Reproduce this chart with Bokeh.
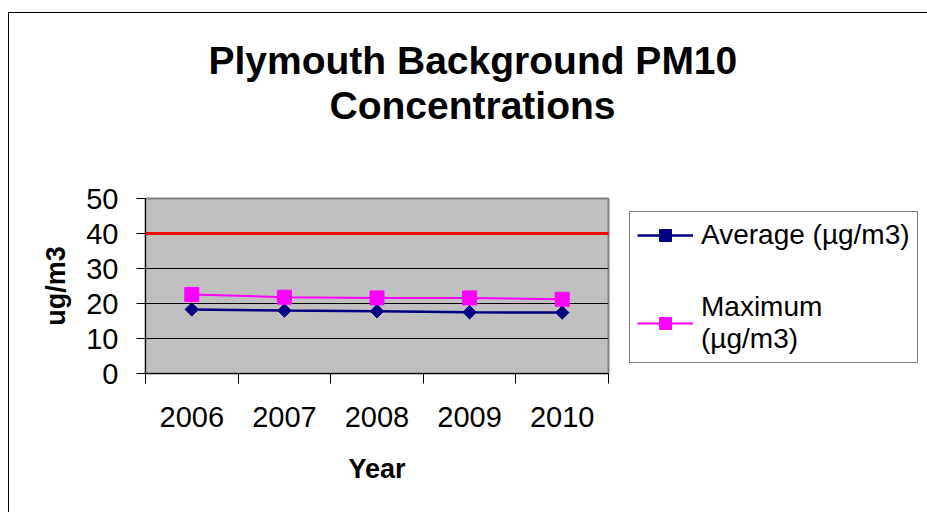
from bokeh.plotting import figure
from bokeh.models import (FixedTicker, Span, Title, Legend, LegendItem,
                          ColumnDataSource, Range1d, LinearAxis)
from bokeh.embed import file_html
from bokeh.resources import INLINE

# ---- data ----
years = ["2006", "2007", "2008", "2009", "2010"]
average = [18.3, 18.0, 17.8, 17.5, 17.4]
maximum = [22.6, 21.8, 21.6, 21.6, 21.2]
limit_value = 40
y_ticks = [0, 10, 20, 30, 40, 50]
y_max = 50

FONT = "Liberation Sans"

x_pos = [i + 0.5 for i in range(len(years))]
src = ColumnDataSource(dict(x=x_pos, year=years, avg=average, mx=maximum))

# figure host starts at page (9, 13) because of the chart-area border
p = figure(frame_width=463, frame_height=175, output_backend="svg",
           toolbar_location=None, tools="",
           x_range=Range1d(0, len(years)), y_range=Range1d(0, y_max),
           min_border_left=136, min_border_right=319,
           min_border_top=185, min_border_bottom=139)
p.styles = {"margin-left": "8px", "margin-top": "12px",
            "border-left": "1px solid black", "border-top": "1px solid black"}

p.background_fill_color = "#C0C0C0"
p.border_fill_color = "white"
p.outline_line_color = "#808080"
p.outline_line_width = 2

xa = p.below[0]
ya = p.left[0]

# ---- titles (p.title is outermost) ----
p.title.text = "Plymouth Background PM10"
p.title.align = "left"
p.title.offset = 63
p.title.standoff = 0
p.title.text_font = FONT
p.title.text_font_size = "39px"
p.title.text_font_style = "bold"
p.title.text_color = "black"

# blank axis that only reserves the gap between the title and the plot area
gap = LinearAxis(ticker=FixedTicker(ticks=[0], minor_ticks=[]),
                 major_tick_out=72, major_tick_in=0,
                 minor_tick_out=0, minor_tick_in=0,
                 major_label_standoff=0, major_label_text_font_size="0px",
                 major_label_text_alpha=0, axis_line_color=None,
                 major_tick_line_color="white", minor_tick_line_color=None)
p.add_layout(gap, "above")
t2 = Title(text="Concentrations", align="left", offset=184, standoff=0,
           text_font=FONT, text_font_size="39px", text_font_style="bold",
           text_color="black")
p.add_layout(t2, "above")

# ---- x axis ----
xa.ticker = FixedTicker(ticks=x_pos, minor_ticks=list(range(len(years) + 1)))
xa.major_label_overrides = {x: y for x, y in zip(x_pos, years)}
xa.major_tick_in = 0
xa.major_tick_out = 0
xa.minor_tick_in = 0
xa.minor_tick_out = 10
xa.minor_tick_line_color = "black"
xa.axis_line_color = "black"
xa.major_label_standoff = 23
xa.major_label_text_font = FONT
xa.major_label_text_font_size = "29px"
xa.major_label_text_color = "black"
xa.axis_label = "Year"
xa.axis_label_text_font = FONT
xa.axis_label_text_font_size = "27px"
xa.axis_label_text_font_style = "bold"
xa.axis_label_text_color = "black"
xa.axis_label_standoff = 24

# ---- y axis ----
ya.ticker = FixedTicker(ticks=y_ticks, minor_ticks=[])
ya.major_tick_in = 0
ya.major_tick_out = 9
ya.major_tick_line_color = "black"
ya.minor_tick_line_color = None
ya.axis_line_color = "black"
ya.major_label_standoff = 18
ya.major_label_text_font = FONT
ya.major_label_text_font_size = "29px"
ya.major_label_text_color = "black"
ya.axis_label = "ug/m3"
ya.axis_label_text_font = FONT
ya.axis_label_text_font_size = "27px"
ya.axis_label_text_font_style = "bold"
ya.axis_label_text_color = "black"
ya.axis_label_standoff = 12

p.xgrid.visible = False
p.ygrid.grid_line_color = "black"
p.ygrid.grid_line_width = 1

# ---- limit line ----
p.add_layout(Span(location=limit_value, dimension="width",
                  line_color="#FF0000", line_width=3))

# ---- series ----
l_avg = p.line("x", "avg", source=src, line_color="#000080", line_width=2.5)
s_avg = p.scatter("x", "avg", source=src, marker="square", angle=0.785398,
                  size=9.5, fill_color="#000080", line_color="#000080")
l_max = p.line("x", "mx", source=src, line_color="#FF00FF", line_width=2)
s_max = p.scatter("x", "mx", source=src, marker="square", size=14,
                  fill_color="#FF00FF", line_color="#FF00FF")

# ---- legend (right panel) ----
lg = Legend(items=[LegendItem(label="Average (µg/m3)", renderers=[l_avg, s_avg]),
                   LegendItem(label="Maximum\n(µg/m3)", renderers=[l_max, s_max])],
            location=(21, 10), margin=0, padding=7, spacing=40,
            glyph_width=56, glyph_height=30, label_standoff=8,
            label_text_font=FONT, label_text_font_size="28px",
            label_text_color="black", border_line_color="black",
            border_line_width=1, background_fill_color="white",
            background_fill_alpha=1)
p.add_layout(lg, "right")

open("out.html", "w").write(file_html(p, INLINE))
